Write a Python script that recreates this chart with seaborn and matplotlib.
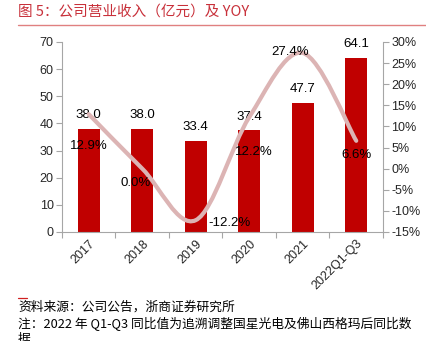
import matplotlib
matplotlib.use("Agg")
import matplotlib.pyplot as plt
from matplotlib.path import Path
from matplotlib.patches import PathPatch
from matplotlib.ticker import FixedLocator
import seaborn as sns
import numpy as np
import pandas as pd

# ---- data ----
categories = ["2017", "2018", "2019", "2020", "2021", "2022Q1-Q3"]
revenue = [38.0, 38.0, 33.4, 37.4, 47.7, 64.1]
yoy = [12.9, 0.0, -12.2, 12.2, 27.4, 6.6]
left_ticks = [0, 10, 20, 30, 40, 50, 60, 70]
right_ticks = [-15, -10, -5, 0, 5, 10, 15, 20, 25, 30]

title = "图 5：公司营业收入（亿元）及 YOY"
source = "资料来源：公司公告，浙商证券研究所"
note1 = "注：2022 年 Q1-Q3 同比值为追溯调整国星光电及佛山西格玛后同比数"
note2 = "据"

# label offsets in points (dx, dy) for YOY labels
yoy_offsets = [(0, -23), (-5, -10), (24, -2), (3, -25), (-9, 1), (0, -10)]

BAR = "#c00000"
LINE = "#dcb4b4"
GRAY = "#a6a6a6"
TITLE_C = "#c8303a"

sns.set_theme(style="white")
plt.rcParams["font.family"] = ["Liberation Sans", "Noto Sans CJK SC", "DejaVu Sans"]
cjk = ["Noto Sans CJK SC", "DejaVu Sans"]

fig = plt.figure(figsize=(4.27, 3.41), dpi=100)
ax = fig.add_axes([62 / 427, 1 - 232 / 341, 321 / 427, 190 / 341])

df = pd.DataFrame({"cat": categories, "rev": revenue})
sns.barplot(data=df, x="cat", y="rev", color=BAR, width=0.42, ax=ax,
            saturation=1, edgecolor="none")
ax.set_xlim(-0.5, len(categories) - 0.5)
ax.set_ylim(0, 70)
ax.set_yticks(left_ticks)
ax.set_xlabel("")
ax.set_ylabel("")

for i, v in enumerate(revenue):
    ax.annotate(f"{v:.1f}", (i, v), xytext=(0, 10), textcoords="offset points",
                ha="center", va="center", fontsize=9.5, color="black")

ax2 = ax.twinx()
ax2.set_ylim(-15, 30)
ax2.set_yticks(right_ticks)
ax2.set_yticklabels([f"{t}%" for t in right_ticks])

# smooth (Catmull-Rom style) curve through YOY points
xs = np.arange(len(yoy), dtype=float)
ys = np.array(yoy, dtype=float)
P = np.column_stack([xs, ys])
Pe = np.vstack([P[0], P, P[-1]])
verts = [tuple(P[0])]
codes = [Path.MOVETO]
for k in range(len(P) - 1):
    p0, p1, p2, p3 = Pe[k], Pe[k + 1], Pe[k + 2], Pe[k + 3]
    c1 = p1 + (p2 - p0) / 6
    c2 = p2 - (p3 - p1) / 6
    verts += [tuple(c1), tuple(c2), tuple(p2)]
    codes += [Path.CURVE4] * 3
patch = PathPatch(Path(verts, codes), facecolor="none", edgecolor=LINE, lw=3,
                  transform=ax2.transData, capstyle="round")
ax2.add_patch(patch)

for i, v in enumerate(yoy):
    dx, dy = yoy_offsets[i]
    ax2.annotate(f"{v:.1f}%", (i, v), xytext=(dx, dy), textcoords="offset points",
                 ha="center", va="center", fontsize=9.5, color="black")

# spines and ticks
for a in (ax, ax2):
    a.spines["top"].set_visible(False)
    for s in ("left", "right", "bottom"):
        a.spines[s].set_color(GRAY)
        a.spines[s].set_linewidth(0.8)
    a.grid(False)
ax.spines["right"].set_visible(False)
ax2.spines["left"].set_visible(False)
ax2.spines["bottom"].set_visible(False)

ax.tick_params(axis="y", direction="out", length=4, width=0.8, color=GRAY,
               labelsize=9, pad=2, left=True)
ax2.tick_params(axis="y", direction="out", length=4, width=0.8, color=GRAY,
                labelsize=9, pad=2, right=True)
ax.tick_params(axis="x", which="major", length=0, labelsize=9, pad=4)
ax.xaxis.set_minor_locator(FixedLocator(np.arange(-0.5, len(categories), 1.0)))
ax.tick_params(axis="x", which="minor", direction="out", length=4, width=0.8,
               color=GRAY, bottom=True)
for lab in ax.get_xticklabels():
    lab.set_rotation(45)
    lab.set_ha("right")
    lab.set_rotation_mode("anchor")

# title and notes
fig.text(18 / 427, 1 - 12 / 341, title, family=cjk, fontsize=10.5, color=TITLE_C,
         ha="left", va="center")
fig.add_artist(plt.Line2D([18 / 427, 1.0], [1 - 24.5 / 341] * 2, color="#e08080",
                          lw=1.0, transform=fig.transFigure))
fig.add_artist(plt.Line2D([18 / 427, 27 / 427], [1 - 297.5 / 341] * 2, color="#d02020",
                          lw=0.9, transform=fig.transFigure))
fig.text(18 / 427, 1 - 307 / 341, source, family=cjk, fontsize=9.2, color="black",
         ha="left", va="center")
fig.text(18 / 427, 1 - 324 / 341, note1, family=cjk, fontsize=9.2, color="black",
         ha="left", va="center")
fig.text(18 / 427, 1 - 340 / 341, note2, family=cjk, fontsize=9.2, color="black",
         ha="left", va="center")

fig.savefig("out.png", dpi=100)
